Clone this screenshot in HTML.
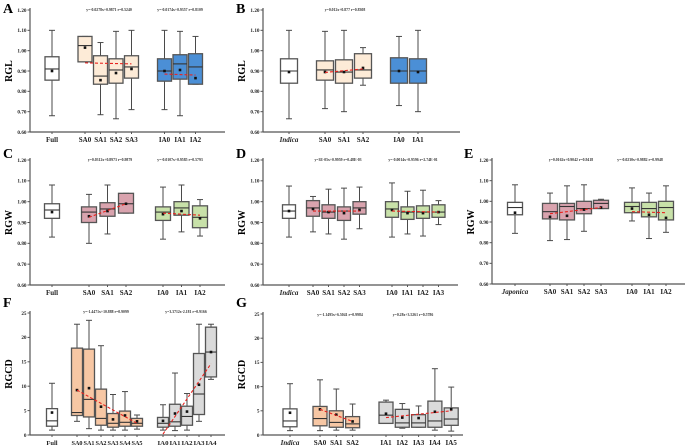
<!DOCTYPE html>
<html><head><meta charset="utf-8">
<style>
html,body{margin:0;padding:0;background:#fff;}
svg{display:block;font-family:"Liberation Serif",serif;}
</style></head>
<body>
<svg id="fig" width="685" height="446" viewBox="0 0 685 446" xmlns="http://www.w3.org/2000/svg"></svg>
<script>
// ---------- DATA ----------
const aLabels=["Full","SA0","SA1","SA2","SA3","IA0","IA1","IA2"];
const aLow=[0.68,0.945,0.685,0.665,0.71,0.71,0.68,0.835];
const aQ1=[0.855,0.945,0.835,0.84,0.865,0.85,0.86,0.835];
const aMed=[0.91,1.025,0.875,0.905,0.92,0.90,0.935,0.92];
const aQ3=[0.97,1.07,0.975,0.96,0.975,0.96,0.98,0.985];
const aHigh=[1.10,1.07,1.04,1.095,1.10,1.10,1.095,1.07];
const aMean=[0.90,1.015,0.855,0.89,0.91,0.90,0.905,0.865];
const aTrendSA=[0.94,0.935], aTrendIA=[0.885,0.88];

const bLabels=["Indica","SA0","SA1","SA2","IA0","IA1"];
const bLow=[0.665,0.715,0.70,0.83,0.73,0.70];
const bQ1=[0.84,0.855,0.84,0.865,0.84,0.84];
const bMed=[0.90,0.905,0.895,0.905,0.90,0.90];
const bQ3=[0.96,0.95,0.955,0.985,0.965,0.96];
const bHigh=[1.10,1.095,1.10,1.015,1.07,1.10];
const bMean=[0.895,0.895,0.895,0.915,0.90,0.895];
const bTrendSA=[0.893,0.91];

const cLabels=["Full","SA0","SA1","SA2","IA0","IA1","IA2"];
const cLow=[0.83,0.80,0.845,0.945,0.82,0.855,0.835];
const cQ1=[0.92,0.90,0.93,0.945,0.91,0.935,0.875];
const cMed=[0.96,0.95,0.965,0.99,0.95,0.97,0.925];
const cQ3=[0.99,0.975,0.995,1.04,0.975,1.0,0.98];
const cHigh=[1.08,1.035,1.08,1.04,1.07,1.08,1.01];
const cMean=[0.95,0.93,0.955,0.99,0.94,0.955,0.92];
const cTrendSA=[0.925,0.99], cTrendIA=[0.945,0.935];

const dLabels=["Indica","SA0","SA1","SA2","SA3","IA0","IA1","IA2","IA3"];
const dLow=[0.83,0.855,0.845,0.82,0.87,0.83,0.845,0.835,0.89];
const dQ1=[0.92,0.93,0.92,0.91,0.94,0.925,0.915,0.92,0.925];
const dMed=[0.955,0.97,0.95,0.955,0.97,0.965,0.95,0.95,0.95];
const dQ3=[0.985,1.005,0.985,0.975,1.0,1.0,0.975,0.98,0.985];
const dHigh=[1.075,1.025,1.06,1.065,1.07,1.09,1.05,1.055,1.005];
const dMean=[0.955,0.965,0.95,0.945,0.96,0.96,0.945,0.945,0.95];
const dTrendSA=[0.955,0.955], dTrendIA=[0.955,0.95];

const eLabels=["Japonica","SA0","SA1","SA2","SA3","IA0","IA1","IA2"];
const eLow=[0.845,0.81,0.815,0.855,0.965,0.905,0.82,0.85];
const eQ1=[0.935,0.915,0.91,0.94,0.965,0.945,0.925,0.91];
const eMed=[0.97,0.95,0.975,0.965,0.99,0.975,0.965,0.97];
const eQ3=[0.995,0.99,0.99,1.0,1.005,0.995,0.995,1.0];
const eHigh=[1.08,1.04,1.075,1.08,1.01,1.065,1.04,1.075];
const eMean=[0.945,0.925,0.93,0.96,0.97,0.965,0.935,0.92];
const eTrendSA=[0.94,0.97], eTrendIA=[0.95,0.945];

const fLabels=["Full","SA0","SA1","SA2","SA3","SA4","SA5","IA0","IA1","IA2","IA3","IA4"];
const fLow=[1.0,2.8,1.3,1.0,1.0,1.0,1.2,1.0,0.9,1.0,2.8,11.4];
const fQ1=[1.8,4.0,3.7,2.0,1.6,1.8,1.8,1.6,1.8,2.0,4.2,11.9];
const fMed=[2.9,4.6,7.3,3.4,2.4,2.6,2.4,2.4,2.7,3.8,8.4,17.0];
const fQ3=[5.4,17.8,17.6,9.4,4.4,4.9,3.4,3.6,6.3,5.9,16.7,22.1];
const fHigh=[10.6,22.7,23.5,18.3,8.3,8.9,4.1,6.2,12.7,8.5,22.7,22.7];
const fMean=[4.6,9.2,9.6,5.8,3.2,4.0,2.8,2.9,4.4,4.8,10.3,17.0];
const fTrendSA=[9.2,2.4], fTrendIA=[0.2,14.6];

const gLabels=["Indica","SA0","SA1","SA2","IA1","IA2","IA3","IA4","IA5"];
const gLow=[0.9,0.9,1.0,1.0,2.4,1.4,1.6,1.0,0.8];
const gQ1=[1.7,1.9,1.6,1.5,2.4,1.6,1.6,1.6,2.0];
const gMed=[2.9,3.4,2.6,2.3,4.1,2.5,2.5,2.9,3.3];
const gQ3=[5.4,5.9,5.0,3.8,6.8,5.3,4.2,7.0,5.6];
const gHigh=[10.6,11.4,9.5,6.4,7.2,6.5,6.0,13.7,9.9];
const gMean=[4.6,5.3,4.2,2.8,4.4,3.6,3.5,4.8,5.3];
const gTrendSA=[5.3,2.8], gTrendIA=[3.6,5.0];

const ticksRG=[0.60,0.70,0.80,0.90,1.00,1.10,1.20];
const ticksCD=[0,5,10,15,20,25];

// ---------- RENDER ----------
const NS="http://www.w3.org/2000/svg";
const svg=document.getElementById("fig");
function mk(tag,attrs,parent){const e=document.createElementNS(NS,tag);for(const k in attrs)e.setAttribute(k,attrs[k]);(parent||svg).appendChild(e);return e;}
function txt(s,attrs,parent){const e=mk("text",attrs,parent);e.textContent=s;return e;}

function panel(p){
  const g=mk("g",{});
  
  
  const ys=v=>p.yTop+(p.yMax-v)/(p.yMax-p.yMin)*(p.yBot-p.yTop);
  const grp=l=>l.startsWith("SA")?1:(l.startsWith("IA")?2:0);
  const xs=i=>{const k=grp(p.labels[i]);return p.x0+i*p.step+(k===1?p.g1:k===2?p.g2:0);};
  const L=txt(p.id,{x:p.lx,y:p.ly,"font-size":14,"font-weight":"bold"},g);
  
  
  const ya=mk("line",{x1:p.ax,y1:p.yTop-2,x2:p.ax,y2:p.yBot,stroke:"#555","stroke-width":1.2},g);
  
  
  const xa=mk("line",{x1:p.ax,y1:p.yBot,x2:p.xEnd,y2:p.yBot,stroke:"#555","stroke-width":1.2},g);
  
  
  p.ticks.forEach(t=>{
    mk("line",{x1:p.ax-2.5,y1:ys(t),x2:p.ax,y2:ys(t),stroke:"#555","stroke-width":1},g);
    const tl=txt(p.fmt(t),{x:p.ax-3.5,y:ys(t)+1.8,"font-size":5.2,"font-weight":"bold","text-anchor":"end",fill:"#222"},g);
    
    
  });
  const ymid=(p.yTop+p.yBot)/2;
  const yt=txt(p.ytitle,{x:p.tx,y:ymid,"font-size":10,"font-weight":"bold","text-anchor":"middle",transform:`rotate(-90 ${p.tx} ${ymid})`},g);
  
  
  p.labels.forEach((lab,i)=>{
    const x=xs(i),w=p.bw,k=grp(lab);
    const fill=k===0?"#ffffff":(k===1?p.c1:p.c2);
    const bg=mk("g",{},g);
    
    
    const wc="#4a4a4a";
    mk("line",{x1:x,y1:ys(p.high[i]),x2:x,y2:ys(p.q3[i]),stroke:wc,"stroke-width":1},bg);
    mk("line",{x1:x,y1:ys(p.q1[i]),x2:x,y2:ys(p.low[i]),stroke:wc,"stroke-width":1},bg);
    mk("line",{x1:x-3,y1:ys(p.high[i]),x2:x+3,y2:ys(p.high[i]),stroke:wc,"stroke-width":1},bg);
    mk("line",{x1:x-3,y1:ys(p.low[i]),x2:x+3,y2:ys(p.low[i]),stroke:wc,"stroke-width":1},bg);
    mk("rect",{x:x-w/2,y:ys(p.q3[i]),width:w,height:Math.max(0.5,ys(p.q1[i])-ys(p.q3[i])),fill:fill,stroke:"#555","stroke-width":1.3},bg);
    mk("line",{x1:x-w/2,y1:ys(p.med[i]),x2:x+w/2,y2:ys(p.med[i]),stroke:"#333","stroke-width":1.1},bg);
    mk("rect",{x:x-1.3,y:ys(p.mean[i])-1.3,width:2.6,height:2.6,fill:"#111"},bg);
    mk("line",{x1:x,y1:p.yBot,x2:x,y2:p.yBot+2,stroke:"#555","stroke-width":1},bg);
    const it=(lab==="Indica"||lab==="Japonica");
    const attrs={x:x,y:p.yBot+10,"font-size":p.xfs||7,"font-weight":"bold","font-style":it?"italic":"normal","text-anchor":"middle",fill:"#222"};
    if(p.xlen && !it && lab!=="Full"){attrs.textLength=p.xlen;attrs.lengthAdjust="spacingAndGlyphs";}
    const xl=txt(lab,attrs,g);
    
    
  });
  [[p.trSA,1],[p.trIA,2]].forEach(([tr,k])=>{
    if(!tr)return;
    const idx=p.labels.map((l,i)=>grp(l)===k?i:-1).filter(i=>i>=0);
    const a=idx[0],b=idx[idx.length-1];
    const tl=mk("line",{x1:xs(a),y1:ys(tr[0]),x2:xs(b),y2:ys(tr[1]),stroke:"#e8231f","stroke-width":1.1,"stroke-dasharray":"3,2"},g);
    
    
  });
  p.eqs.forEach(e=>{
    const et=txt(e[0],{x:e[1],y:p.eqy,"font-size":3.8,"font-weight":"bold","text-anchor":"middle",fill:"#333"},g);
    
    
  });
}
const f2=v=>v.toFixed(2), f0=v=>String(v);
const RGL={yMin:0.6,yMax:1.2,ticks:ticksRG,fmt:f2};
const CD={yMin:0,yMax:25,ticks:ticksCD,fmt:f0};
const cream="#fdebd7",blue="#4b8fd6",pink="#d9a3ae",green="#c8e1a9",peach="#f7c7a4",grey="#dadada";

panel(Object.assign({id:"A",lx:3,ly:13,ax:30,xEnd:225,yTop:10,yBot:132,tx:12,ytitle:"RGL",x0:52,step:15.5,g1:17.5,g2:35,bw:14,c1:cream,c2:blue,
 labels:aLabels,low:aLow,q1:aQ1,med:aMed,q3:aQ3,high:aHigh,mean:aMean,trSA:aTrendSA,trIA:aTrendIA,eqy:11,
 eqs:[["y=-0.0278x+0.9871  r=0.5240",109],["y=-0.0174x+0.9357  r=0.8109",180]]},RGL));
panel(Object.assign({id:"B",lx:236,ly:13,ax:263,xEnd:460,yTop:10,yBot:132,tx:245,ytitle:"RGL",x0:289,step:19,g1:17,g2:34,bw:17,c1:cream,c2:blue,
 labels:bLabels,low:bLow,q1:bQ1,med:bMed,q3:bQ3,high:bHigh,mean:bMean,trSA:bTrendSA,trIA:null,eqy:11,
 eqs:[["y=0.012x+0.877  r=0.8308",345]]},RGL));
panel(Object.assign({id:"C",lx:3,ly:158,ax:30,xEnd:225,yTop:160,yBot:285,tx:12,ytitle:"RGW",x0:52,step:18.5,g1:18.5,g2:37,bw:15,c1:pink,c2:green,
 labels:cLabels,low:cLow,q1:cQ1,med:cMed,q3:cQ3,high:cHigh,mean:cMean,trSA:cTrendSA,trIA:cTrendIA,eqy:161,
 eqs:[["y=0.0312x+0.8973  r=0.9879",110],["y=-0.0107x+0.9585  r=0.5793",180]]},RGL));
panel(Object.assign({id:"D",lx:236,ly:158,ax:263,xEnd:458,yTop:160,yBot:285,tx:245,ytitle:"RGW",x0:289,step:15.5,g1:8.5,g2:25.5,bw:13,c1:pink,c2:green,
 labels:dLabels,low:dLow,q1:dQ1,med:dMed,q3:dQ3,high:dHigh,mean:dMean,trSA:dTrendSA,trIA:dTrendIA,eqy:161,
 eqs:[["y=3E-05x+0.9959  r=0.48E-03",338],["y=-0.0014x+0.9596  r=2.74E-01",413]]},RGL));
panel(Object.assign({id:"E",lx:464,ly:158,ax:492,xEnd:685,yTop:160,yBot:284,tx:474,ytitle:"RGW",x0:515,step:17,g1:18,g2:32,bw:15,c1:pink,c2:green,
 labels:eLabels,low:eLow,q1:eQ1,med:eMed,q3:eQ3,high:eHigh,mean:eMean,trSA:eTrendSA,trIA:eTrendIA,eqy:161,
 eqs:[["y=0.0162x+0.9042  r=0.9418",571],["y=-0.0230x+0.9882  r=0.9948",640]]},RGL));
panel(Object.assign({id:"F",lx:3,ly:307,ax:30,xEnd:225,yTop:313,yBot:435,tx:12,ytitle:"RGCD",x0:52,step:12,g1:13,g2:27,bw:11,c1:peach,c2:grey,xfs:6.5,xlen:11,
 labels:fLabels,low:fLow,q1:fQ1,med:fMed,q3:fQ3,high:fHigh,mean:fMean,trSA:fTrendSA,trIA:fTrendIA,eqy:313,
 eqs:[["y=-1.4471x+10.888  r=0.9099",106],["y=3.3712x-2.181  r=0.9166",186]]},CD));
panel(Object.assign({id:"G",lx:236,ly:307,ax:263,xEnd:463,yTop:314,yBot:435,tx:245,ytitle:"RGCD",x0:290,step:16.3,g1:13.7,g2:30.8,bw:14,c1:peach,c2:grey,
 labels:gLabels,low:gLow,q1:gQ1,med:gMed,q3:gQ3,high:gHigh,mean:gMean,trSA:gTrendSA,trIA:gTrendIA,eqy:316,
 eqs:[["y=-1.1495x+6.5041  r=0.9984",340],["y=0.28x+3.5261  r=0.5786",413]]},CD));
</script>
</body></html>
